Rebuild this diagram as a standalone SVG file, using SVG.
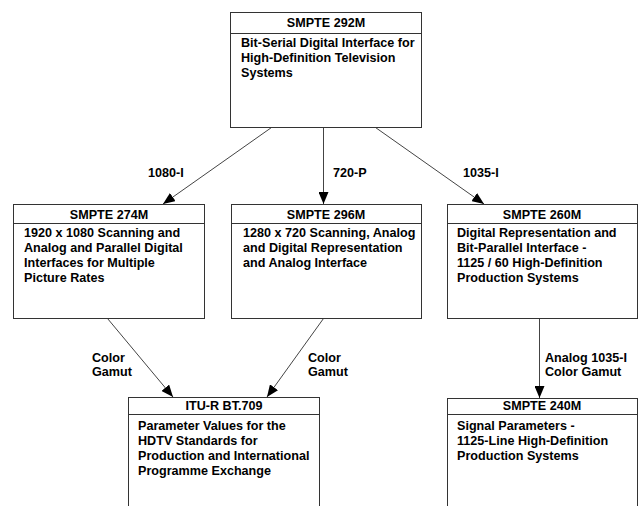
<svg xmlns="http://www.w3.org/2000/svg" width="640" height="506" viewBox="0 0 640 506">
<style>
  .box{fill:#fff;stroke:#333;stroke-width:1}
  .div{stroke:#333;stroke-width:1}
  text{font-family:"Liberation Sans",Arial,sans-serif;font-weight:bold;font-size:12.6px;fill:#000}
  .hd{text-anchor:middle}
  .conn line{stroke:#444;stroke-width:1}
</style>
<defs>
  <marker id="ah" viewBox="0 0 12 10" refX="12" refY="5" markerWidth="12" markerHeight="10" markerUnits="userSpaceOnUse" orient="auto">
    <path d="M0,0 L12,5 L0,10 z" fill="#000"/>
  </marker>
</defs>
<rect width="640" height="506" fill="#fff"/>

<g class="conn">
  <line x1="271.5" y1="127.5" x2="163" y2="204" marker-end="url(#ah)"/>
  <line x1="323.5" y1="127.5" x2="323.5" y2="204" marker-end="url(#ah)"/>
  <line x1="375.5" y1="127.5" x2="484" y2="204" marker-end="url(#ah)"/>
  <line x1="107.5" y1="318.5" x2="173" y2="397" marker-end="url(#ah)"/>
  <line x1="323.5" y1="318.5" x2="267" y2="397" marker-end="url(#ah)"/>
  <line x1="539.5" y1="319" x2="539.5" y2="398" marker-end="url(#ah)"/>
  <text x="148" y="177">1080-I</text>
  <text x="333" y="177">720-P</text>
  <text x="463" y="177">1035-I</text>
  <text x="92" y="362">Color</text>
  <text x="92" y="376">Gamut</text>
  <text x="308" y="362">Color</text>
  <text x="308" y="376">Gamut</text>
  <text x="545" y="362">Analog 1035-I</text>
  <text x="545" y="376">Color Gamut</text>
</g>

<g id="smpte292m">
  <rect class="box" x="230.5" y="12.5" width="191" height="115"/>
  <line class="div" x1="230.5" y1="33.5" x2="421.5" y2="33.5"/>
  <text class="hd" x="326" y="27">SMPTE 292M</text>
  <text x="241" y="47">Bit-Serial Digital Interface for</text>
  <text x="241" y="62">High-Definition Television</text>
  <text x="241" y="77">Systems</text>
</g>

<g id="smpte274m">
  <rect class="box" x="13.5" y="204.5" width="191" height="114"/>
  <line class="div" x1="13.5" y1="223.5" x2="204.5" y2="223.5"/>
  <text class="hd" x="109" y="218.5">SMPTE 274M</text>
  <text x="24" y="237">1920 x 1080 Scanning and</text>
  <text x="24" y="252">Analog and Parallel Digital</text>
  <text x="24" y="267">Interfaces for Multiple</text>
  <text x="24" y="282">Picture Rates</text>
</g>

<g id="smpte296m">
  <rect class="box" x="231.5" y="204.5" width="190" height="114"/>
  <line class="div" x1="231.5" y1="223.5" x2="421.5" y2="223.5"/>
  <text class="hd" x="326" y="218.5">SMPTE 296M</text>
  <text x="243" y="237">1280 x 720 Scanning, Analog</text>
  <text x="243" y="252">and Digital Representation</text>
  <text x="243" y="267">and Analog Interface</text>
</g>

<g id="smpte260m">
  <rect class="box" x="447.5" y="204.5" width="190" height="114"/>
  <line class="div" x1="447.5" y1="223.5" x2="637.5" y2="223.5"/>
  <text class="hd" x="542" y="218.5">SMPTE 260M</text>
  <text x="457" y="237">Digital Representation and</text>
  <text x="457" y="252">Bit-Parallel Interface -</text>
  <text x="457" y="267">1125 / 60 High-Definition</text>
  <text x="457" y="282">Production Systems</text>
</g>

<g id="itu709">
  <rect class="box" x="128.5" y="397.5" width="191" height="130"/>
  <line class="div" x1="128.5" y1="414.5" x2="319.5" y2="414.5"/>
  <text class="hd" x="224" y="410">ITU-R BT.709</text>
  <text x="138" y="430">Parameter Values for the</text>
  <text x="138" y="445">HDTV Standards for</text>
  <text x="138" y="460">Production and International</text>
  <text x="138" y="475">Programme Exchange</text>
</g>

<g id="smpte240m">
  <rect class="box" x="447.5" y="398.5" width="190" height="130"/>
  <line class="div" x1="447.5" y1="414.5" x2="637.5" y2="414.5"/>
  <text class="hd" x="542" y="410">SMPTE 240M</text>
  <text x="457" y="430">Signal Parameters -</text>
  <text x="457" y="445">1125-Line High-Definition</text>
  <text x="457" y="460">Production Systems</text>
</g>
</svg>
